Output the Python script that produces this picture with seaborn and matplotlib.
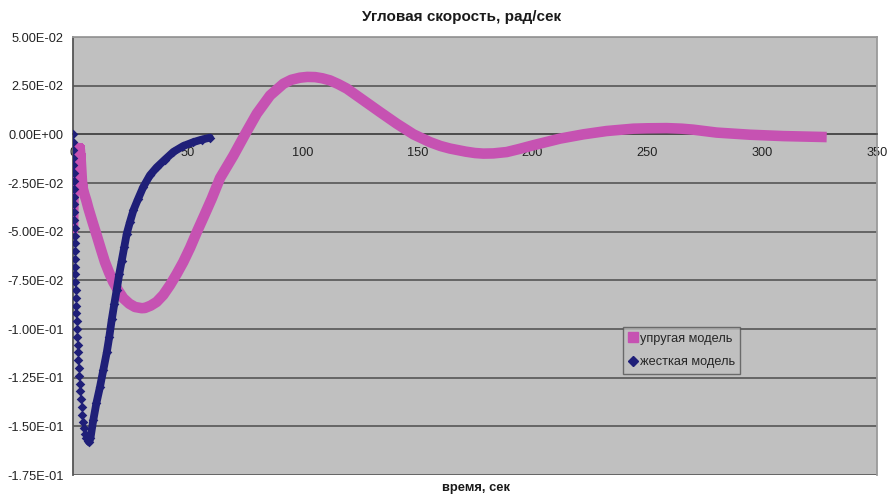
import numpy as np
import pandas as pd
import matplotlib
matplotlib.use("Agg")
import matplotlib.pyplot as plt
from matplotlib.ticker import FuncFormatter, MultipleLocator
from matplotlib.lines import Line2D
import seaborn as sns

# --- data -------------------------------------------------------------
# elastic model: time, s / angular velocity, rad/s
elastic_t = [0, 0.1, 0.2, 0.35, 0.5, 0.7, 1.0, 1.5, 2.0, 2.5, 3.0, 3.3, 3.6,
             3.9, 4.3, 5.0, 5.8, 6.7, 8.5, 10.3, 12.1, 13.9, 15.7, 17.5, 19.7,
             21.9, 24.5, 27.0, 29.9, 31.3, 33.8, 36.4, 39.3, 42.2, 45.1, 48.0,
             51.0, 53.9, 57.1, 60.4, 64.0, 69.8, 74.9, 80.0, 85.8, 91.6, 95.0,
             98.8, 102.0, 105.4, 108.5, 111.9, 115.5, 119.2, 126.4, 133.7,
             140.9, 148.2, 155.4, 160.0, 164.1, 171.0, 175.0, 178.6, 183.0,
             188.8, 194.0, 200.4, 212.0, 222.2, 232.3, 243.9, 250.0, 258.5,
             265.0, 270.0, 280.2, 294.7, 309.2, 328.1]
elastic_v = [-0.048, -0.042, -0.034, -0.026, -0.018, -0.012, -0.008, -0.007,
             -0.007, -0.0075, -0.008, -0.012, -0.018, -0.024, -0.028, -0.031,
             -0.034, -0.038, -0.045, -0.0518, -0.0588, -0.0656, -0.0710,
             -0.0758, -0.0803, -0.0842, -0.0870, -0.0887, -0.0893, -0.0892,
             -0.0880, -0.0861, -0.0825, -0.0775, -0.0718, -0.0656, -0.0582,
             -0.0502, -0.0418, -0.0330, -0.0225, -0.0110, 0.0, 0.0106, 0.0200,
             0.0260, 0.0280, 0.0291, 0.0295, 0.0294, 0.0288, 0.0277, 0.0258,
             0.0235, 0.0175, 0.0114, 0.0055, 0.0, -0.0040, -0.0060, -0.0073,
             -0.0089, -0.0096, -0.0099, -0.0098, -0.0091, -0.0076, -0.0056,
             -0.0022, 0.0, 0.0017, 0.0029, 0.0031, 0.0032, 0.0029, 0.0024,
             0.0009, -0.0002, -0.0009, -0.0014]

# rigid model: time, s / angular velocity, rad/s
rigid_t = [0, 0.05, 0.10, 0.15, 0.21, 0.27, 0.33, 0.39, 0.45, 0.51, 0.57,
           0.63, 0.69, 0.75, 0.81, 0.87, 0.92, 0.97, 1.02, 1.07, 1.15, 1.26,
           1.37, 1.48, 1.60, 1.74, 1.90, 2.06, 2.22, 2.38, 2.56, 2.76, 2.98,
           3.22, 3.48, 3.76, 4.06, 4.45, 4.85, 5.35, 5.85, 6.4, 7.0,
           7.6, 8.8, 10.2, 11.7, 13.2, 14.7, 15.8, 16.9, 18.0, 19.0, 20.1,
           21.2, 22.3, 23.4, 24.8, 26.3, 28.4, 30.6, 33.5, 36.4, 40.0, 43.7,
           48.0, 52.4, 56.0, 59.6]
rigid_v = [0, -0.004, -0.008, -0.012, -0.016, -0.020, -0.024, -0.028, -0.032,
           -0.036, -0.040, -0.044, -0.048, -0.052, -0.056, -0.060, -0.064,
           -0.068, -0.072, -0.076, -0.080, -0.084, -0.088, -0.092, -0.096,
           -0.100, -0.104, -0.108, -0.112, -0.116, -0.120, -0.124, -0.128,
           -0.132, -0.136, -0.140, -0.144, -0.148, -0.151, -0.154, -0.156,
           -0.1575, -0.158,
           -0.156, -0.147, -0.138, -0.130, -0.121, -0.112, -0.104, -0.095,
           -0.087, -0.080, -0.072, -0.065, -0.058, -0.051, -0.045, -0.039,
           -0.033, -0.027, -0.021, -0.017, -0.013, -0.009, -0.006, -0.004,
           -0.0027, -0.0017]

series_names = ["упругая модель", "жесткая модель"]
x_ticks = [0, 50, 100, 150, 200, 250, 300, 350]

title = "Угловая скорость, рад/сек"
x_label = "время, сек"

# --- styling ----------------------------------------------------------
PINK = "#c652b2"
NAVY = "#1f1f78"
PLOT_BG = "#c0c0c0"
GRID = "#5e5e5e"

sns.set_theme(style="white")
plt.rcParams["font.family"] = ["Liberation Sans", "DejaVu Sans"]

elastic = pd.DataFrame({"t": elastic_t, "v": elastic_v})
rigid = pd.DataFrame({"t": rigid_t, "v": rigid_v})

fig = plt.figure(figsize=(8.91, 4.97), dpi=100)
fig.patch.set_facecolor("white")
ax = fig.add_axes([73 / 891, 22 / 497, 804 / 891, 438 / 497])
ax.set_facecolor(PLOT_BG)

# elastic model: thick band of square markers
sns.lineplot(data=elastic, x="t", y="v", ax=ax, color=PINK, lw=7.6,
             estimator=None, sort=False, solid_capstyle="butt",
             solid_joinstyle="round", zorder=3)
sns.scatterplot(data=elastic[elastic["t"] <= 4.3], x="t", y="v", ax=ax,
                marker="s", s=44, color=PINK, edgecolor=PINK, linewidth=0,
                zorder=3)

# rigid model: diamond markers, dense enough on the recovery to merge
min_idx = int(np.argmin(rigid["v"].to_numpy()))
sns.lineplot(data=rigid.iloc[min_idx:], x="t", y="v", ax=ax, color=NAVY,
             lw=5.6, estimator=None, sort=False, solid_joinstyle="round",
             zorder=4)
sns.scatterplot(data=rigid, x="t", y="v", ax=ax, marker="D", s=24,
                color=NAVY, edgecolor=NAVY, linewidth=0, zorder=5)

# axes limits / ticks
ax.set_xlim(0, 350)
ax.set_ylim(-0.175, 0.05)
ax.set_xticks(x_ticks)
ax.yaxis.set_major_locator(MultipleLocator(0.025))
ax.yaxis.set_major_formatter(FuncFormatter(lambda v, _: f"{v:.2E}"))

ax.grid(axis="y", color=GRID, lw=1.3)
ax.grid(axis="x", visible=False)
ax.set_axisbelow(True)

# x-axis crosses at zero
ax.spines["bottom"].set_position(("data", 0))
ax.spines["bottom"].set_color("#4a4a4a")
ax.spines["bottom"].set_linewidth(1.2)
ax.spines["left"].set_color("#555555")
ax.spines["left"].set_linewidth(1.3)
for side in ("top", "right"):
    ax.spines[side].set_color("#9a9a9a")
    ax.spines[side].set_linewidth(1.3)

ax.tick_params(axis="x", direction="out", length=4, width=1, color="#4a4a4a",
               pad=5, labelsize=9.2, labelcolor="#222222")
ax.tick_params(axis="y", direction="out", length=4, width=1, color="#555555",
               pad=3, labelsize=9.2, labelcolor="#222222")
ax.set_xlabel("")
ax.set_ylabel("")

# legend
handles = [
    Line2D([], [], ls="none", marker="s", ms=7.5, color=PINK, mec=PINK),
    Line2D([], [], ls="none", marker="D", ms=4.8, color=NAVY, mec=NAVY),
]
leg = ax.legend(handles, series_names, loc="upper left",
                bbox_to_anchor=(0.684, 0.338), borderaxespad=0,
                frameon=True, fancybox=False, fontsize=9.2,
                handlelength=0.6, handletextpad=0.25, borderpad=0.45,
                labelspacing=0.9)
leg.get_frame().set_facecolor(PLOT_BG)
leg.get_frame().set_edgecolor("#555555")
leg.get_frame().set_linewidth(1.0)

fig.text(462 / 891, 1 - 17 / 497, title, ha="center", va="center",
         fontsize=11, fontweight="bold", color="#1a1a1a")
fig.text(476 / 891, 1 - 488 / 497, x_label, ha="center", va="center",
         fontsize=9.3, fontweight="bold", color="#1a1a1a")

fig.savefig("out.png", dpi=100, facecolor="white")
